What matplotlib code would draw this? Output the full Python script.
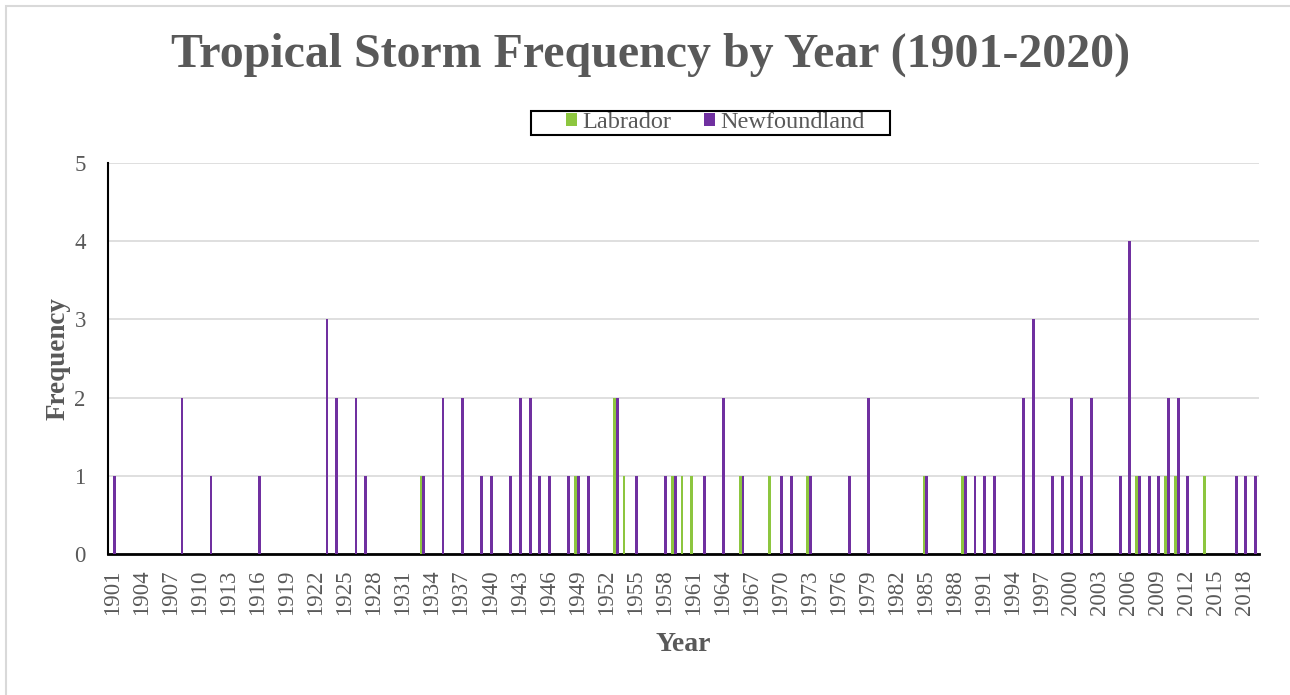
import numpy as np
import matplotlib
matplotlib.use("Agg")
import matplotlib.pyplot as plt
from matplotlib.patches import Rectangle

years = list(range(1901, 2020))

# non-zero counts, everything else is 0
labrador_counts = {1933: 1, 1949: 1, 1953: 2, 1954: 1, 1959: 1, 1960: 1, 1961: 1,
                   1966: 1, 1969: 1, 1973: 1, 1985: 1, 1989: 1, 2007: 1, 2010: 1,
                   2011: 1, 2014: 1}
newfoundland_counts = {1901: 1, 1908: 2, 1911: 1, 1916: 1, 1923: 3, 1924: 2, 1926: 2,
                       1927: 1, 1933: 1, 1935: 2, 1937: 2, 1939: 1, 1940: 1, 1942: 1,
                       1943: 2, 1944: 2, 1945: 1, 1946: 1, 1948: 1, 1949: 1, 1950: 1,
                       1953: 2, 1955: 1, 1958: 1, 1959: 1, 1962: 1, 1964: 2, 1966: 1,
                       1970: 1, 1971: 1, 1973: 1, 1977: 1, 1979: 2, 1985: 1, 1989: 1,
                       1990: 1, 1991: 1, 1992: 1, 1995: 2, 1996: 3, 1998: 1, 1999: 1,
                       2000: 2, 2001: 1, 2002: 2, 2005: 1, 2006: 4, 2007: 1, 2008: 1,
                       2009: 1, 2010: 2, 2011: 2, 2012: 1, 2017: 1, 2018: 1, 2019: 1}

labrador = [labrador_counts.get(y, 0) for y in years]
newfoundland = [newfoundland_counts.get(y, 0) for y in years]

green = "#8dc63f"
purple = "#7030a0"
gray = "#595959"
serif = "Liberation Serif"
W, H = 1290, 695

fig = plt.figure(figsize=(12.9, 6.95), dpi=100)
# chart area border (only left/top visible in the crop)
fig.patches.append(Rectangle((6 / W, -0.05), 1.05, 1.05 - 6 / H, transform=fig.transFigure,
                             fill=False, edgecolor="#d9d9d9", linewidth=1.5))

ax = fig.add_axes([108 / W, 1 - 554 / H, (1259 - 108) / W, (554 - 163) / H])

x = np.arange(len(years))
w = 0.29
ax.bar(x - w / 2, labrador, width=w, color=green, label="Labrador", zorder=3)
ax.bar(x + w / 2, newfoundland, width=w, color=purple, label="Newfoundland", zorder=3)

ax.set_xlim(-0.5, len(years) - 0.5)
ax.set_ylim(0, 5)
ax.set_yticks(range(6))
ax.yaxis.grid(True, color="#d9d9d9", linewidth=1.2, zorder=0)
ax.set_axisbelow(True)

ax.set_xticks(x[::3])
ax.set_xticklabels([str(y) for y in years[::3]], rotation=90)
ax.tick_params(axis="both", length=0, labelsize=16.5, labelcolor=gray)
ax.tick_params(axis="x", pad=11)
ax.tick_params(axis="y", pad=16)
for lab in ax.get_xticklabels() + ax.get_yticklabels():
    lab.set_fontfamily(serif)

for side in ["top", "right"]:
    ax.spines[side].set_visible(False)
ax.spines["left"].set_color("black")
ax.spines["bottom"].set_color("black")
ax.spines["left"].set_linewidth(1.5)
ax.spines["bottom"].set_linewidth(2)

ax.set_xlabel("Year", fontsize=20, fontweight="bold", color=gray, fontfamily=serif, labelpad=12)
ax.set_ylabel("Frequency", fontsize=19.5, fontweight="bold", color=gray, fontfamily=serif, labelpad=3)

fig.text(651 / W, 1 - 55 / H, "Tropical Storm Frequency by Year (1901-2020)",
         ha="center", va="center", fontsize=34.5, fontweight="bold", color=gray, fontfamily=serif)

leg = fig.legend(loc="center", bbox_to_anchor=(715 / W, 1 - 123 / H), ncol=2,
                 frameon=False, handlelength=0.45, handleheight=0.45, handletextpad=0.22,
                 columnspacing=1.36, prop={"family": serif, "size": 17.5})
for t in leg.get_texts():
    t.set_color(gray)
fig.patches.append(Rectangle((531 / W, 1 - 135 / H), (890 - 531) / W, 24 / H,
                             transform=fig.transFigure, fill=False, edgecolor="black",
                             linewidth=1.5))

fig.savefig("out.png", dpi=100)
